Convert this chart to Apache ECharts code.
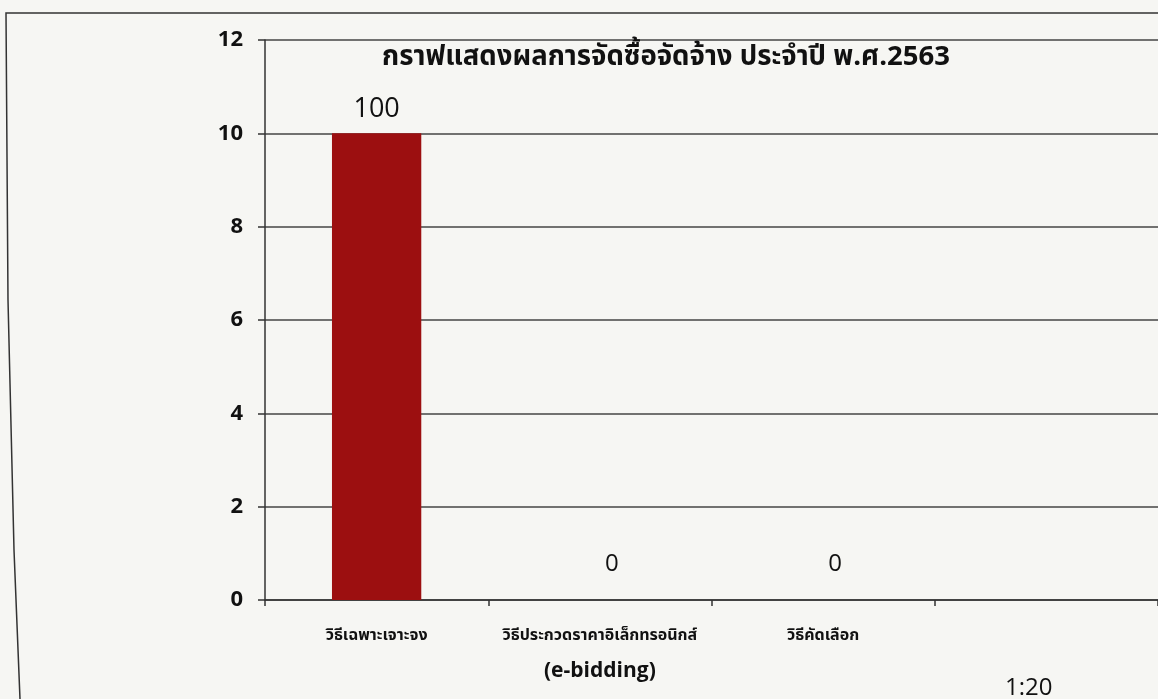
<!DOCTYPE html>
<html>
<head>
<meta charset="utf-8">
<script src="https://cdn.jsdelivr.net/npm/echarts@6/dist/echarts.min.js"></script>
<style>
html,body{margin:0;padding:0;background:#f6f6f3;}
#c{width:1158px;height:699px;}
</style>
</head>
<body>
<div id="c"></div>
<script>
const categories = ['วิธีเฉพาะเจาะจง', 'วิธีประกวดราคาอิเล็กทรอนิกส์\n{e|(e-bidding)}', 'วิธีคัดเลือก', ''];
const values = [10, 0, 0, null];
const valueLabels = ['100', '0', '0', ''];
const yTicks = { min: 0, max: 12, interval: 2 };
const titleText = 'กราฟแสดงผลการจัดซื้อจัดจ้าง ประจำปี พ.ศ.2563';

const thaiFont = '"Noto Sans Thai", "Noto Sans Thai UI", "Noto Sans", "DejaVu Sans", sans-serif';
const latinFont = '"Open Sans", "Noto Sans", sans-serif';

const chart = echarts.init(document.getElementById('c'));
chart.setOption({
  backgroundColor: '#f6f6f3',
  animation: false,
  title: {
    text: titleText,
    left: 661,
    textAlign: 'center',
    top: 40,
    textStyle: { fontFamily: thaiFont, fontSize: 27.5, fontWeight: 'bold', color: '#111' }
  },
  grid: { left: 265, top: 40, width: 900, bottom: 99 },
  xAxis: {
    type: 'category',
    data: categories,
    axisLine: { lineStyle: { color: '#333', width: 1.5 } },
    axisTick: { show: true, length: 6, lineStyle: { color: '#333', width: 1.5 } },
    axisLabel: {
      margin: 19,
      interval: 0,
      fontFamily: thaiFont,
      fontSize: 16,
      fontWeight: 'bold',
      color: '#111',
      lineHeight: 35,
      rich: { e: { fontFamily: latinFont, fontSize: 21, fontWeight: 'bold', color: '#111', lineHeight: 35 } }
    }
  },
  yAxis: {
    type: 'value',
    min: yTicks.min, max: yTicks.max, interval: yTicks.interval,
    axisLine: { show: true, lineStyle: { color: '#333', width: 1.5 } },
    axisTick: { show: true, length: 7, lineStyle: { color: '#333', width: 1.5 } },
    axisLabel: { margin: 22, fontFamily: latinFont, fontSize: 22, fontWeight: 'bold', color: '#111' },
    splitLine: { lineStyle: { color: '#444', width: 1.5 } }
  },
  series: [{
    type: 'bar',
    barWidth: '40%',
    data: values.map((v) => ({
      value: v,
      label: v === 0 ? { distance: 24, offset: [12, 0], fontSize: 24 } : { distance: 11 }
    })),
    itemStyle: { color: '#9c0f10' },
    label: {
      show: true,
      position: 'top',
      fontFamily: latinFont,
      fontSize: 27,
      color: '#111',
      formatter: p => valueLabels[p.dataIndex]
    }
  }],
  graphic: [
    { type: 'polyline', shape: { points: [[1158, 13], [6, 13], [8, 300], [14, 550], [20, 699]] }, style: { stroke: '#333', lineWidth: 1.5, fill: null } },
    { type: 'text', left: 1005, top: 676, style: { text: '1:20', font: '24px "Open Sans", sans-serif', fill: '#111' } }
  ]
});
</script>
</body>
</html>
